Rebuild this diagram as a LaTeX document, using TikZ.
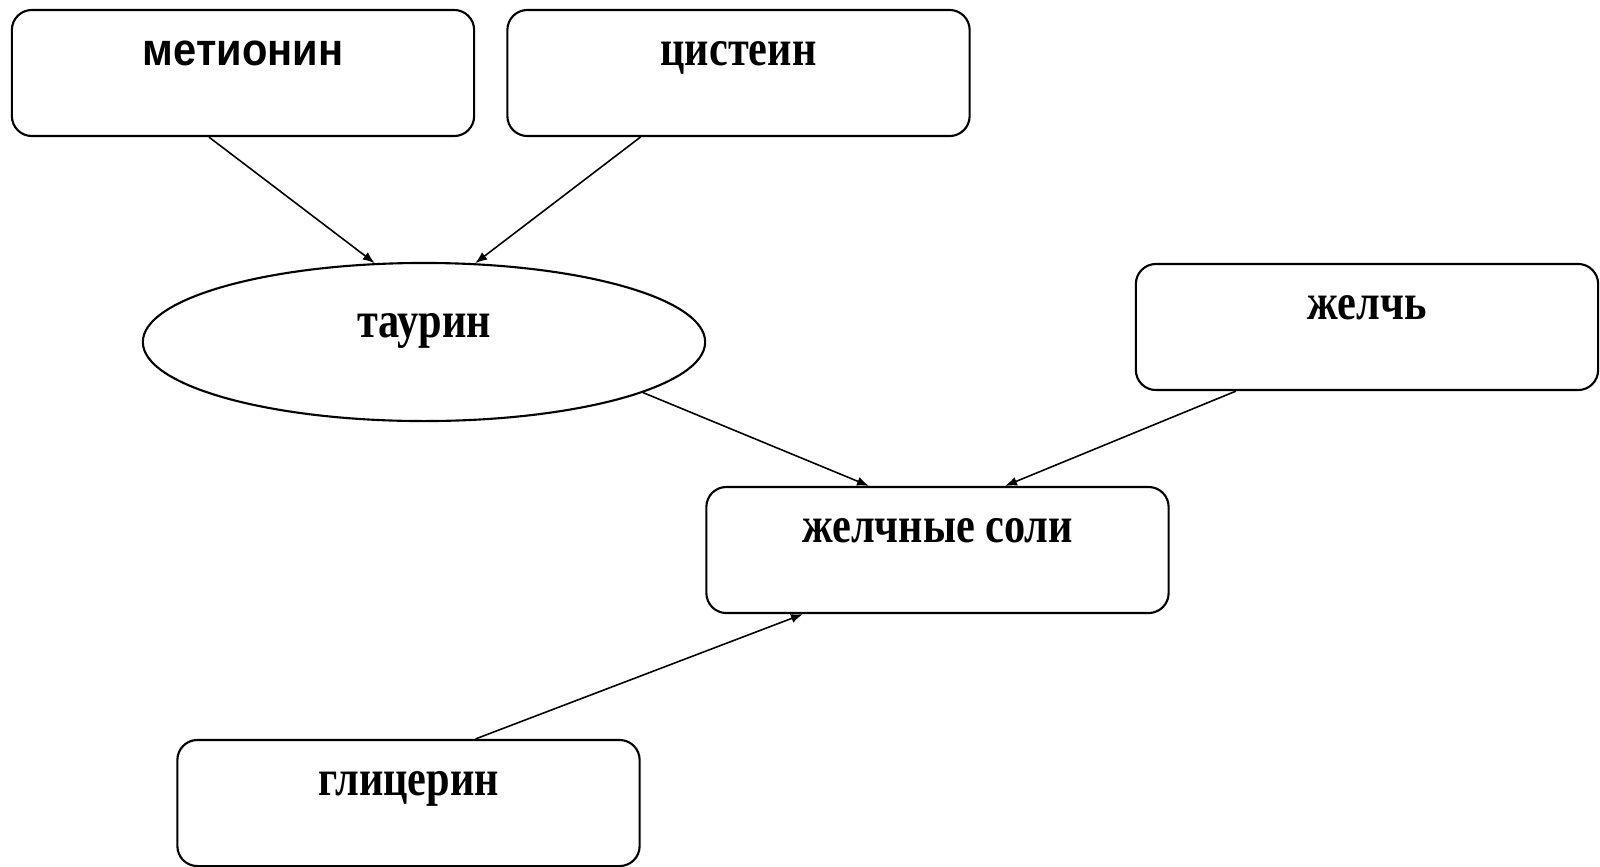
\documentclass[tikz,border=0pt]{standalone}
\usepackage{fontspec}
\setmainfont{Liberation Serif}[FakeStretch=0.83]
\newfontfamily\arialfont{Liberation Sans}[FakeStretch=0.91]
\usetikzlibrary{calc, positioning, arrows.meta, shapes.geometric}

\tikzset{
	block/.style={draw, rounded corners=0.2cm, line width=0.6pt, minimum width=4.62cm, inner sep=0pt, text height=0.55cm, text depth=0.71cm, align=center, font=\fontsize{14.5}{17}\selectfont\bfseries},
	link/.style={->, line width=0.45pt}
}

\begin{document}
\begin{tikzpicture}[x=0.01cm, y=-0.01cm, >={Latex[length=3.4pt,width=2.6pt]}]
		\useasboundingbox (0,0) rectangle (1600,866);

		\node[block, font=\fontsize{13}{16}\selectfont\arialfont\bfseries] (Met) at (243,73) {метионин};
		\node[block] (Cys) at (738.5,73) {цистеин};
		\node[draw, ellipse, line width=0.6pt, minimum width=5.62cm, minimum height=1.58cm, inner sep=0pt, text height=0.3cm, text depth=0.4cm, font=\fontsize{14.5}{17}\selectfont\bfseries] (Tau) at (424,342) {таурин};
		\node[block] (Bile) at (1367,327) {желчь};
		\node[block] (Salts) at (937.5,550) {желчные соли};
		\node[block] (Gly) at (408.5,803) {глицерин};

		\draw[link] ([xshift=-0.34cm]Met.south) -- (Tau.122);
		\draw[link] ([xshift=-0.98cm]Cys.south) -- (Tau.57);
		\draw[link] (Tau.-13) -- ([xshift=-0.685cm]Salts.north);
		\draw[link] ([xshift=-1.31cm]Bile.south) -- ([xshift=0.675cm]Salts.north);
		\draw[link] ([xshift=0.67cm]Gly.north) -- ([xshift=-1.345cm]Salts.south);

	\end{tikzpicture}
\end{document}
